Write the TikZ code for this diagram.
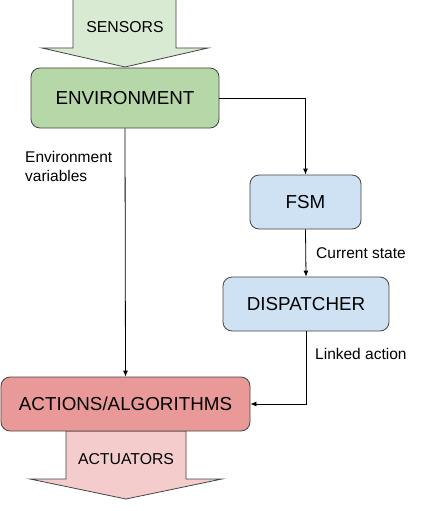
\documentclass[tikz,border=0pt]{standalone}
\usepackage{fontspec}
\setmainfont{Liberation Sans}
\usetikzlibrary{arrows.meta}
\definecolor{envfill}{HTML}{B6D7A8}
\definecolor{sensfill}{HTML}{D9EAD3}
\definecolor{bluefill}{HTML}{CFE2F3}
\definecolor{actfill}{HTML}{EA9999}
\definecolor{actufill}{HTML}{F4CCCC}
\definecolor{edgegrey}{HTML}{444444}
\tikzset{
  box/.style={draw=edgegrey, line width=0.8pt, rounded corners=9pt, font=\fontsize{18.8}{22}\selectfont, inner sep=0pt},
  bigarrow/.style={draw=edgegrey, line width=0.8pt},
  conn/.style={draw=black, line width=0.8pt, -{Latex[length=6pt,width=5pt]}},
  lbl/.style={font=\fontsize{15.5}{19}\selectfont, inner sep=0pt, anchor=west, align=left},
  arrtext/.style={font=\fontsize{15.8}{19}\selectfont, inner sep=0pt}
}
\begin{document}
\begin{tikzpicture}[x=1pt,y=-1pt]
\useasboundingbox (0,0) rectangle (431,511);
% sensors arrow
\draw[bigarrow, fill=sensfill] (73,-2) -- (176,-2) -- (176,48) -- (208,48) -- (125,67) -- (42,48) -- (73,48) -- cycle;
\node[arrtext] (sens) at (125,27) {SENSORS};
% actuators arrow
\draw[bigarrow, fill=actufill] (66,431) -- (186,431) -- (186,479) -- (222,479) -- (126,499) -- (30,479) -- (66,479) -- cycle;
\node[arrtext] (actu) at (126,459) {ACTUATORS};
% boxes
\node[box, fill=envfill, minimum width=188pt, minimum height=60pt] (env) at (125,98) {ENVIRONMENT};
\node[box, fill=bluefill, minimum width=111pt, minimum height=54pt] (fsm) at (305.5,202) {FSM};
\node[box, fill=bluefill, minimum width=166pt, minimum height=54pt] (disp) at (306,304) {DISPATCHER};
\node[box, fill=actfill, minimum width=249pt, minimum height=54pt] (act) at (125.5,404) {ACTIONS/ALGORITHMS};
% connectors
\draw[conn] (env.east) -| (fsm.north);
\draw[conn] (fsm.south) -- (disp.north);
\draw[conn] (disp.south) |- (act.east);
\draw[conn] (env.south) -- (act.north);
% labels
\node[lbl] (envvar) at (25,166) {Environment\\variables};
\node[lbl] (cur) at (316,253) {Current state};
\node[lbl] (link) at (315,354) {Linked action};
\end{tikzpicture}
\end{document}
